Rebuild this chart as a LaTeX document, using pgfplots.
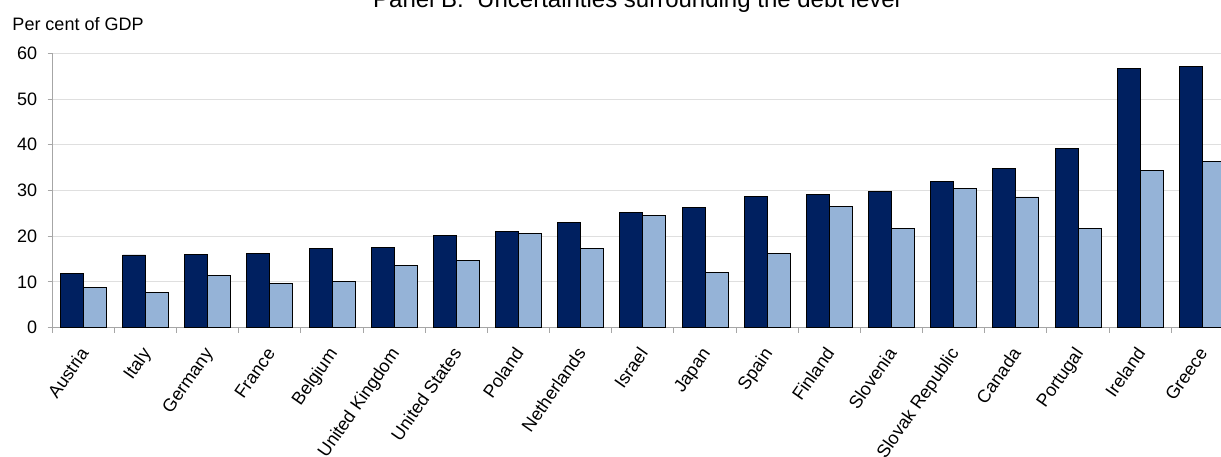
\documentclass[border=0pt]{standalone}
\usepackage{fontspec}
\setmainfont{Liberation Sans}
\usepackage{pgfplots}
\pgfplotsset{compat=1.18}
\definecolor{navy}{HTML}{002060}
\definecolor{lblue}{HTML}{95B3D7}
\definecolor{axgray}{HTML}{A6A6A6}
\definecolor{gridc}{HTML}{DFDFDF}
\begin{document}
\begin{tikzpicture}[x=1pt,y=1pt]
\begin{axis}[
  at={(0,0)}, anchor=south west,
  scale only axis, width=1168.7pt, height=274.4pt,
  xmin=-0.5, xmax=18.30, ymin=0, ymax=60,
  ybar=0pt, bar width=23pt,
  axis x line=bottom, axis y line=left,
  axis line style={draw=axgray, line width=1pt, -},
  xtick={0,...,18},
  xticklabels={Austria,Italy,Germany,France,Belgium,United Kingdom,United States,Poland,Netherlands,Israel,Japan,Spain,Finland,Slovenia,Slovak Republic,Canada,Portugal,Ireland,Greece},
  major x tick style={draw=none},
  minor xtick={-0.5,0.5,...,17.5},
  minor tick length=5pt,
  major tick length=4.7pt,
  tick align=outside,
  tick style={draw=axgray, line width=1pt},
  ytick={0,10,...,60},
  ymajorgrids,
  major grid style={draw=gridc, line width=1pt},
  /pgf/number format/assume math mode=true,
  xticklabel style={font=\fontsize{18}{20}\selectfont, xshift=6pt, yshift=-21pt, rotate=55, anchor=base east, inner sep=0pt},
  yticklabel style={font=\fontsize{18}{20}\selectfont, xshift=-7pt},
  clip=true,
]
\addplot[fill=navy, draw=black, line width=0.8pt] coordinates {
(0,11.9) (1,15.9) (2,16.0) (3,16.3) (4,17.3) (5,17.5) (6,20.1) (7,21.0) (8,23.1) (9,25.2)
(10,26.2) (11,28.65) (12,29.2) (13,29.7) (14,31.9) (15,34.9) (16,39.1) (17,56.7) (18,57.1)};
\addplot[fill=lblue, draw=black, line width=0.8pt] coordinates {
(0,8.8) (1,7.7) (2,11.5) (3,9.6) (4,10.2) (5,13.6) (6,14.8) (7,20.6) (8,17.4) (9,24.6)
(10,12.0) (11,16.3) (12,26.5) (13,21.7) (14,30.5) (15,28.6) (16,21.8) (17,34.4) (18,36.3)};
\end{axis}
\node[anchor=base west, font=\fontsize{24}{28}\selectfont, inner sep=0pt] at (320.7,320.4) {Panel B.\ \ Uncertainties surrounding the debt level};
\node[anchor=base west, font=\fontsize{18}{20}\selectfont, inner sep=0pt] at (-40,297) {Per cent of GDP};
\pgfresetboundingbox
\useasboundingbox (-52.3,-129.3) rectangle (1168.7,327.7);
\end{tikzpicture}
\end{document}
